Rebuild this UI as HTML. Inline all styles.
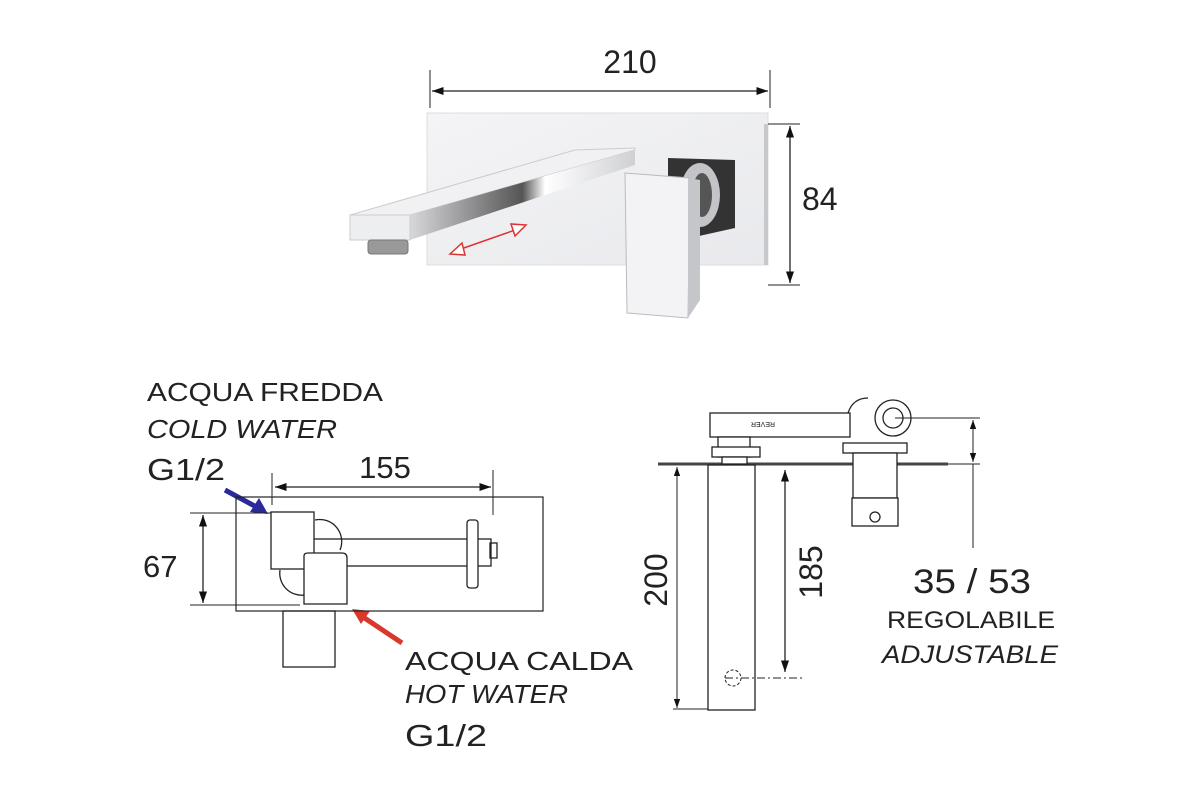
<!DOCTYPE html>
<html><head><meta charset="utf-8"><style>html,body{margin:0;padding:0;background:#fff}svg{display:block}</style></head>
<body>
<svg width="1200" height="800" viewBox="0 0 1200 800" xmlns="http://www.w3.org/2000/svg" font-family="Liberation Sans, sans-serif" fill="none" stroke="#222">
<defs>
<linearGradient id="pl" x1="0" y1="0" x2="1" y2="1"><stop offset="0" stop-color="#f4f4f6"/><stop offset="1" stop-color="#e8e9ec"/></linearGradient>
<linearGradient id="sp" x1="0" y1="0" x2="1" y2="0"><stop offset="0" stop-color="#d8d8dc"/><stop offset="0.5" stop-color="#555"/><stop offset="0.6" stop-color="#fff"/><stop offset="1" stop-color="#cfd0d4"/></linearGradient>
<marker id="ah" viewBox="0 0 10 10" refX="10" refY="5" markerWidth="9" markerHeight="9" orient="auto-start-reverse"><path d="M0,1.5 L10,5 L0,8.5z" fill="#111" stroke="none"/></marker>
</defs>
<!-- top photo -->
<line x1="430" y1="70" x2="430" y2="108" stroke-width="1"/>
<line x1="770" y1="70" x2="770" y2="108" stroke-width="1"/>
<line x1="432" y1="91" x2="768" y2="91" stroke-width="1.3" marker-start="url(#ah)" marker-end="url(#ah)"/>
<text x="630" y="73" font-size="32" fill="#222" stroke="none" text-anchor="middle">210</text>
<rect x="427" y="113" width="341" height="152" fill="url(#pl)" stroke="#ddd"/>
<rect x="764" y="124" width="4" height="141" fill="#c8c8cc" stroke="none"/>
<polygon points="668,158 735,160 735,228 690,238 668,232" fill="#333" stroke="none"/>
<ellipse cx="700" cy="195" rx="20" ry="32" fill="#c4c4c8" stroke="none"/>
<ellipse cx="702" cy="195" rx="10" ry="22" fill="#555" stroke="none"/>
<polygon points="350,215 410,215 635,150 635,148 575,150" fill="#f1f1f3" stroke="#ccc"/>
<polygon points="410,215 635,150 635,165 410,240" fill="url(#sp)" stroke="none"/>
<rect x="350" y="215" width="60" height="25" fill="#eceef0" stroke="#ccc"/>
<rect x="368" y="240" width="40" height="14" fill="#999" stroke="#777" rx="3"/>
<polygon points="625,173 690,178 688,318 627,313" fill="#f3f3f5" stroke="#bbb"/>
<polygon points="688,178 700,180 700,300 688,318" fill="#c5c6ca" stroke="none"/>
<g stroke="#d33" stroke-width="1.5" fill="#fff">
<line x1="458" y1="250" x2="518" y2="229"/>
<polygon points="450,254 462,243 465,255"/>
<polygon points="526,225 511,224 515,236"/>
</g>
<line x1="768" y1="124" x2="800" y2="124" stroke-width="1"/>
<line x1="768" y1="285" x2="800" y2="285" stroke-width="1"/>
<line x1="790" y1="126" x2="790" y2="283" stroke-width="1.3" marker-start="url(#ah)" marker-end="url(#ah)"/>
<text x="802" y="210" font-size="32" fill="#222" stroke="none">84</text>

<!-- bottom left -->
<g fill="#222" stroke="none" font-size="26">
<text x="147" y="401" textLength="236" lengthAdjust="spacingAndGlyphs">ACQUA FREDDA</text>
<text x="147" y="438" font-style="italic" textLength="190" lengthAdjust="spacingAndGlyphs">COLD WATER</text>
<text x="147" y="480" font-size="31" textLength="78" lengthAdjust="spacingAndGlyphs">G1/2</text>
<text x="405" y="670" textLength="228" lengthAdjust="spacingAndGlyphs">ACQUA CALDA</text>
<text x="405" y="703" font-style="italic" textLength="163" lengthAdjust="spacingAndGlyphs">HOT WATER</text>
<text x="405" y="746" font-size="31" textLength="82" lengthAdjust="spacingAndGlyphs">G1/2</text>
<text x="385" y="478" font-size="31" text-anchor="middle">155</text>
<text x="143" y="577" font-size="31">67</text>
</g>
<line x1="225" y1="490" x2="262" y2="510" stroke="#2a2a9a" stroke-width="5"/>
<polygon points="268,514 250,512 259,498" fill="#2a2a9a" stroke="none"/>
<line x1="402" y1="643" x2="360" y2="615" stroke="#d9382c" stroke-width="5"/>
<polygon points="352,609 370,611 361,624" fill="#d9382c" stroke="none"/>
<rect x="236" y="497" width="307" height="114" stroke-width="1.2"/>
<line x1="272" y1="473" x2="272" y2="505" stroke-width="1"/>
<line x1="493" y1="470" x2="493" y2="515" stroke-width="1"/>
<line x1="275" y1="487" x2="491" y2="487" stroke-width="1.3" marker-start="url(#ah)" marker-end="url(#ah)"/>
<line x1="190" y1="513" x2="272" y2="513" stroke-width="1"/>
<line x1="190" y1="605" x2="300" y2="605" stroke-width="1"/>
<line x1="203" y1="515" x2="203" y2="603" stroke-width="1.3" marker-start="url(#ah)" marker-end="url(#ah)"/>
<g stroke-width="1.3">
<path d="M315,520 a22,22 0 0 1 25,30" />
<path d="M280,570 a22,22 0 0 0 25,25"/>
<rect x="313" y="539" width="178" height="27"/>
<rect x="467" y="520" width="11" height="68" rx="3" fill="#fff"/>
<rect x="490" y="543" width="7" height="15"/>
<rect x="271" y="512" width="43" height="57" fill="#fff"/>
<path d="M304,604 V556 Q304,553 308,553 H342 Q347,553 347,558 V604 Z" fill="#fff"/>
<rect x="283" y="611" width="52" height="56"/>
</g>

<!-- bottom right -->
<line x1="658" y1="464" x2="948" y2="464" stroke-width="3" stroke="#444"/>
<rect x="708" y="465" width="47" height="245" stroke-width="1.3"/>
<line x1="677" y1="467" x2="677" y2="708" stroke-width="1" marker-start="url(#ah)" marker-end="url(#ah)"/>
<line x1="673" y1="709" x2="708" y2="709" stroke-width="1"/>
<line x1="785" y1="470" x2="785" y2="672" stroke-width="1.3" marker-start="url(#ah)" marker-end="url(#ah)"/>
<circle cx="733" cy="678" r="8" stroke-dasharray="3,2" stroke-width="1"/>
<line x1="725" y1="678" x2="802" y2="678" stroke-dasharray="8,3,2,3" stroke-width="1"/>
<text transform="translate(667,580) rotate(-90)" font-size="32" fill="#222" stroke="none" text-anchor="middle">200</text>
<text transform="translate(822,572) rotate(-90)" font-size="32" fill="#222" stroke="none" text-anchor="middle">185</text>
<g stroke-width="1.3" fill="#fff">
<rect x="710" y="413" width="140" height="24"/>
<rect x="718" y="437" width="32" height="20"/>
<rect x="712" y="447" width="48" height="10"/>
<rect x="722" y="457" width="25" height="7"/>
<rect x="843" y="443" width="64" height="10"/>
<rect x="853" y="453" width="44" height="45"/>
<rect x="852" y="498" width="46" height="28"/>
<circle cx="875" cy="517" r="5"/>
<circle cx="893" cy="418" r="18"/>
<circle cx="893" cy="418" r="10"/>
<path d="M848,413 q5,-15 20,-15"/>
</g>
<text x="775" y="426" font-size="7" fill="#222" stroke="none" transform="rotate(180 775 424)">REVER</text>
<line x1="895" y1="418" x2="980" y2="418" stroke-width="1"/>
<line x1="948" y1="464" x2="980" y2="464" stroke-width="1"/>
<line x1="973" y1="420" x2="973" y2="462" stroke-width="1" marker-start="url(#ah)" marker-end="url(#ah)"/>
<line x1="973" y1="464" x2="973" y2="548" stroke-width="1"/>
<g fill="#222" stroke="none">
<text x="972" y="593" font-size="34" text-anchor="middle" textLength="118" lengthAdjust="spacingAndGlyphs">35 / 53</text>
<text x="971" y="628" font-size="24" text-anchor="middle" textLength="168" lengthAdjust="spacingAndGlyphs">REGOLABILE</text>
<text x="970" y="663" font-size="25" font-style="italic" text-anchor="middle" textLength="176" lengthAdjust="spacingAndGlyphs">ADJUSTABLE</text>
</g>
</svg>
</body></html>
